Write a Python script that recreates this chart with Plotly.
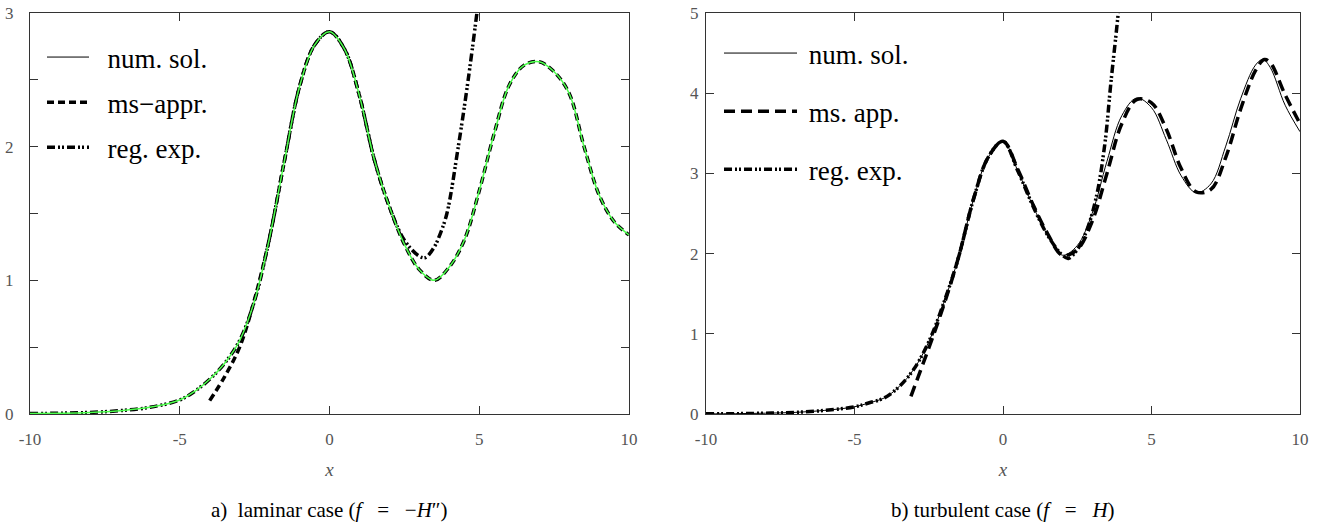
import plotly.graph_objects as go

# ---------------- data: a) laminar case ----------------
lam_x = [-10, -9, -8, -7, -6, -5, -4.5, -4, -3.5, -3, -2.5, -2, -1.5, -1, -0.5, 0, 0.5, 1, 1.5, 2,
         2.5, 3, 3.5, 4, 4.5, 5, 5.5, 6, 6.5, 7, 7.5, 8, 8.5, 9, 9.5, 10]
lam_num = [0.003, 0.006, 0.012, 0.025, 0.05, 0.105, 0.17, 0.26, 0.38, 0.55, 0.85, 1.32, 1.9, 2.45, 2.76,
           2.86, 2.73, 2.38, 1.9, 1.55, 1.27, 1.08, 1.0, 1.1, 1.3, 1.67, 2.1, 2.46, 2.61, 2.635, 2.56,
           2.4, 2.0, 1.64, 1.44, 1.34]
lam_ms_x = [-4.0, -3.5, -3.0, -2.5, -2, -1.5, -1, -0.5, 0, 0.5, 1, 1.5, 2, 2.5, 3, 3.5, 4, 4.5, 5,
            5.5, 6, 6.5, 7, 7.5, 8, 8.5, 9, 9.5, 10]
lam_ms = [0.1, 0.28, 0.5, 0.86, 1.32, 1.9, 2.45, 2.76, 2.86, 2.73, 2.38, 1.9, 1.55, 1.27, 1.08, 1.0,
          1.1, 1.3, 1.67, 2.1, 2.46, 2.61, 2.635, 2.56, 2.4, 2.0, 1.64, 1.44, 1.34]
lam_reg_x = [-10, -9, -8, -7, -6, -5, -4.5, -4, -3.5, -3, -2.5, -2, -1.5, -1, -0.5, 0, 0.5, 1, 1.5, 2,
             2.5, 3, 3.2, 3.5, 3.7, 3.92, 4.3, 4.63, 4.95]
lam_reg = [0.003, 0.006, 0.012, 0.025, 0.05, 0.105, 0.17, 0.26, 0.38, 0.55, 0.85, 1.32, 1.9, 2.45, 2.76,
           2.86, 2.73, 2.38, 1.9, 1.55, 1.3, 1.18, 1.17, 1.25, 1.35, 1.5, 2.0, 2.5, 3.05]

# ---------------- data: b) turbulent case ----------------
tur_x = [-10, -9, -8, -7, -6, -5, -4.5, -4, -3.5, -3, -2.5, -2, -1.5, -1, -0.5, 0, 0.5, 1, 1.5, 2,
         2.5, 3, 3.5, 4, 4.5, 5, 5.5, 6, 6.5, 7, 7.5, 8, 8.5, 8.75, 9, 9.5, 10]
tur_num = [0.002, 0.004, 0.01, 0.02, 0.045, 0.09, 0.14, 0.2, 0.34, 0.56, 0.9, 1.38, 1.95, 2.67, 3.2,
           3.40, 3.03, 2.6, 2.23, 1.98, 2.1, 2.5, 3.15, 3.72, 3.94, 3.82, 3.42, 2.97, 2.76, 2.87, 3.34,
           3.93, 4.35, 4.42, 4.32, 3.85, 3.52]
tur_ms_x = [-3.1, -2.8, -2.5, -2, -1.5, -1, -0.5, 0, 0.5, 1, 1.5, 2, 2.5, 3, 3.5, 4, 4.5, 5, 5.5, 6,
            6.5, 7, 7.5, 8, 8.5, 8.8, 9, 9.5, 10]
tur_ms = [0.22, 0.52, 0.82, 1.35, 1.95, 2.67, 3.2, 3.40, 3.05, 2.62, 2.25, 1.98, 2.05, 2.4, 3.0, 3.62,
          3.92, 3.88, 3.55, 3.06, 2.77, 2.8, 3.2, 3.8, 4.28, 4.42, 4.38, 3.98, 3.62]
tur_reg_x = [-10, -9, -8, -7, -6, -5, -4.5, -4, -3.5, -3, -2.5, -2, -1.5, -1, -0.5, 0, 0.5, 1, 1.5, 2,
             2.2, 2.5, 2.82, 3.15, 3.43, 3.63, 3.88, 3.95]
tur_reg = [0.002, 0.004, 0.01, 0.02, 0.045, 0.09, 0.14, 0.2, 0.34, 0.56, 0.9, 1.38, 1.95, 2.67, 3.2,
           3.40, 3.03, 2.6, 2.23, 1.98, 1.94, 2.05, 2.29, 2.72, 3.37, 4.12, 5.0, 5.3]

x_ticks = [-10, -5, 0, 5, 10]
x_tick_text = ["-10", "-5", "0", "5", "10"]
lam_y_ticks = [0, 0.5, 1, 1.5, 2, 2.5, 3]
lam_y_text = ["0", "", "1", "", "2", "", "3"]
tur_y_ticks = [0, 1, 2, 3, 4, 5]
tur_y_text = ["0", "1", "2", "3", "4", "5"]

NB = "\u00a0"
labels_a = [NB * 2 + "num. sol.", NB * 2 + "ms\u2212appr.", NB * 2 + "reg. exp."]
labels_b = [NB + "num. sol.", NB + "ms. app.", NB + "reg. exp."]
caption_a = "a)" + NB + " laminar case (<i>f</i>" + NB * 3 + "=" + NB * 3 + "\u2212<i>H</i>\u2033)"
caption_b = "b) turbulent case (<i>f</i>" + NB * 3 + "=" + NB * 3 + "<i>H</i>)"

SERIF = "Liberation Serif, Times New Roman, Times, serif"
W, H = 1321, 530
REG_DASH = "8px,3px,2px,2px,2px,3px"

fig = go.Figure()

# ---- left panel ----
fig.add_trace(go.Scatter(x=[None], y=[None], mode="lines", name=labels_a[0],
                         line=dict(color="black", width=1), legend="legend", legendgroup="a1",
                         xaxis="x", yaxis="y"))
fig.add_trace(go.Scatter(x=lam_ms_x, y=lam_ms, mode="lines", name=labels_a[1],
                         line=dict(color="black", width=3.5, dash="7px,4px", shape="spline"),
                         legend="legend", legendgroup="a2", xaxis="x", yaxis="y"))
fig.add_trace(go.Scatter(x=lam_reg_x, y=lam_reg, mode="lines", name=labels_a[2],
                         line=dict(color="black", width=3.5, dash=REG_DASH, shape="spline"),
                         legend="legend", legendgroup="a3", xaxis="x", yaxis="y"))
fig.add_trace(go.Scatter(x=lam_x, y=lam_num, mode="lines", showlegend=False,
                         line=dict(color="#4cff4c", width=1.5, shape="spline"),
                         xaxis="x", yaxis="y"))

# ---- right panel ----
fig.add_trace(go.Scatter(x=tur_x, y=tur_num, mode="lines", name=labels_b[0],
                         line=dict(color="black", width=1, shape="spline"),
                         legend="legend2", legendgroup="b1", xaxis="x2", yaxis="y2"))
fig.add_trace(go.Scatter(x=tur_ms_x, y=tur_ms, mode="lines", name=labels_b[1],
                         line=dict(color="black", width=3.5, dash="11px,6px", shape="spline"),
                         legend="legend2", legendgroup="b2", xaxis="x2", yaxis="y2"))
fig.add_trace(go.Scatter(x=tur_reg_x, y=tur_reg, mode="lines", name=labels_b[2],
                         line=dict(color="black", width=3.5, dash=REG_DASH, shape="spline"),
                         legend="legend2", legendgroup="b3", xaxis="x2", yaxis="y2"))

tickfont = dict(family=SERIF, size=17, color="#555")
common_x = dict(range=[-10, 10], tickvals=x_ticks, ticktext=x_tick_text, ticks="inside", ticklen=8,
                tickcolor="#333", showline=True, linecolor="#333", linewidth=1, mirror="ticks",
                showgrid=False, zeroline=False, tickfont=tickfont, automargin=False,
                ticklabelstandoff=10,
                title=dict(text="<i>x</i>", font=dict(family=SERIF, size=19, color="#555"), standoff=14))
common_y = dict(ticks="inside", ticklen=8, tickcolor="#333", showline=True, linecolor="#333",
                linewidth=1, mirror="ticks", showgrid=False, zeroline=False, tickfont=tickfont,
                automargin=False)

x1 = (30 / W, 629 / W)
x2 = (706 / W, 1300 / W)
yd = ((H - 414) / H, (H - 13) / H)

fig.update_layout(
    width=W, height=H, margin=dict(l=0, r=0, t=0, b=0),
    font=dict(family=SERIF, color="black"),
    paper_bgcolor="white", plot_bgcolor="white",
    xaxis=dict(domain=list(x1), anchor="y", **common_x),
    yaxis=dict(domain=list(yd), anchor="x", range=[0, 3], tickvals=lam_y_ticks, ticktext=lam_y_text,
               ticklabelstandoff=12, **common_y),
    xaxis2=dict(domain=list(x2), anchor="y2", **common_x),
    yaxis2=dict(domain=list(yd), anchor="x2", range=[0, 5], tickvals=tur_y_ticks, ticktext=tur_y_text,
                ticklabelstandoff=3, **common_y),
    legend=dict(x=42 / W, y=(H - 33) / H, xanchor="left", yanchor="top", bgcolor="rgba(0,0,0,0)",
                font=dict(family=SERIF, size=27, color="black"), traceorder="grouped",
                tracegroupgap=7, itemwidth=42),
    legend2=dict(x=719 / W, y=(H - 29) / H, xanchor="left", yanchor="top", bgcolor="rgba(0,0,0,0)",
                 font=dict(family=SERIF, size=27, color="black"), traceorder="grouped",
                 tracegroupgap=20, itemwidth=73),
    annotations=[
        dict(text=caption_a, x=(x1[0] + x1[1]) / 2, y=(H - 510) / H, xref="paper", yref="paper",
             xanchor="center", yanchor="middle", showarrow=False,
             font=dict(family=SERIF, size=21, color="black")),
        dict(text=caption_b, x=(x2[0] + x2[1]) / 2, y=(H - 510) / H, xref="paper", yref="paper",
             xanchor="center", yanchor="middle", showarrow=False,
             font=dict(family=SERIF, size=21, color="black")),
    ],
)

fig.write_html("out.html", config={"displayModeBar": False},
               post_script="document.body.style.margin='0px';")
